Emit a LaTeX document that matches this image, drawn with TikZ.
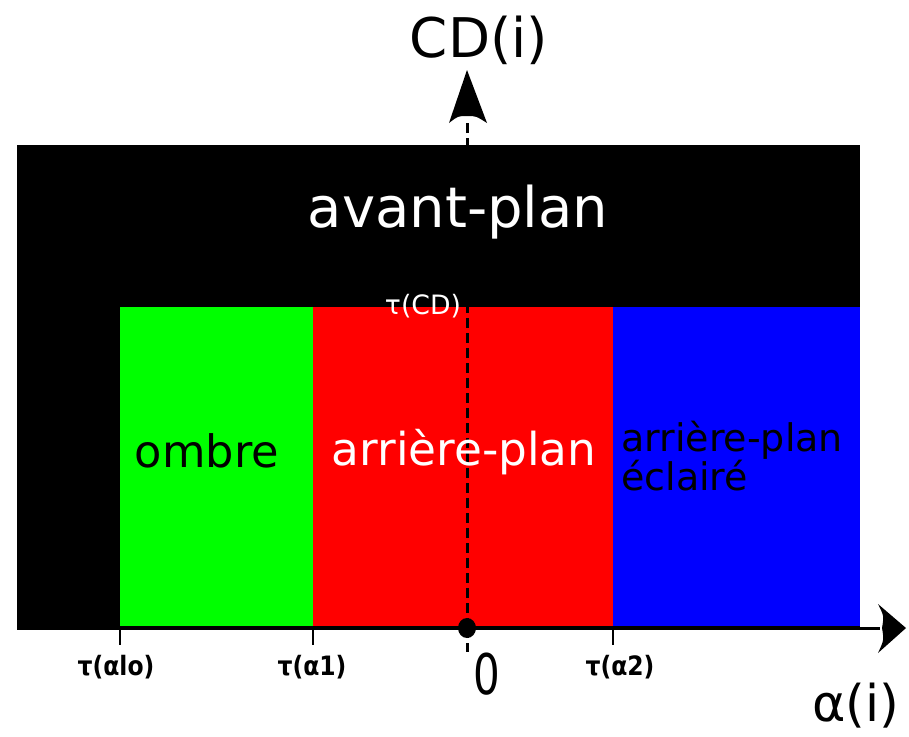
\documentclass[tikz,border=0pt]{standalone}
\usepackage{fontspec}
\setmainfont{DejaVu Sans}
\begin{document}
\begin{tikzpicture}[x=0.75pt,y=-0.75pt,
  lbl/.style={inner sep=0pt},
  ticklbl/.style={inner sep=0pt,xscale=0.88,font=\fontsize{20}{24}\selectfont\bfseries}]
\useasboundingbox (0,0) rectangle (909,736);
% regions
\fill[black] (17,145) rectangle (860,628);
\fill[fill={rgb,255:red,0;green,255;blue,0}] (120,307) rectangle (313,626);
\fill[red] (313,307) rectangle (613,626);
\fill[blue] (613,307) rectangle (860,626);
% coordinates
\coordinate (O) at (467,628);
\coordinate (xs) at (17,628);
\coordinate (xe) at (880,628);
\coordinate (xt) at (906,628);
\coordinate (ye) at (467,118);
\coordinate (yt) at (467,70);
\coordinate (yb) at (467,652);
% horizontal axis
\draw[line width=3pt*0.75] (xs) -- (xe);
\fill (xt) -- (878,604) .. controls (884,616) .. (882,628) .. controls (884,640) .. (878,653) -- cycle;
% vertical dashed axis
\draw[line width=3pt*0.75,dash pattern=on 7.5pt off 3.75pt] (O) -- (ye);
\draw[line width=3pt*0.75,dash pattern=on 7.5pt off 3.75pt] (O) -- (yb);
\fill (yt) -- (487,123) .. controls (476,116) .. (467,116) .. controls (458,116) .. (449,123) -- cycle;
\fill (O) ellipse (9 and 10);
% ticks
\coordinate (t0) at (120,628);
\coordinate (t1) at (313,628);
\coordinate (t2) at (613,628);
\draw[line width=1.5pt] (t0) -- ++(0,17);
\draw[line width=1.5pt] (t1) -- ++(0,17);
\draw[line width=1.5pt] (t2) -- ++(0,17);
% labels
\node[lbl,font=\fontsize{41}{48}\selectfont] (cd) at (479,40) {CD(i)};
\node[lbl,font=\fontsize{38}{44}\selectfont] (al) at (856,706) {α(i)};
\node[lbl,font=\fontsize{42}{50}\selectfont,text=white] (av) at (458,212) {avant-plan};
\node[lbl,font=\fontsize{20}{24}\selectfont,text=white] (tcd) at (423,306) {τ(CD)};
\node[lbl,font=\fontsize{33.5}{40}\selectfont] (om) at (207,451) {ombre};
\node[lbl,font=\fontsize{34}{40}\selectfont,text=white] (ap) at (464,452) {arrière-plan};
\node[lbl,anchor=west,align=left,font=\fontsize{28.5}{28}\selectfont] (ape) at (621,456) {arrière-plan\\éclairé};
\node[ticklbl] (l0) at (116,667) {τ(αlo)};
\node[ticklbl] (l1) at (312,667) {τ(α1)};
\node[ticklbl] (l2) at (620,667) {τ(α2)};
\node[lbl,font=\fontsize{42}{48}\selectfont,xscale=0.75] (zero) at (487,674) {0};
\end{tikzpicture}
\end{document}
